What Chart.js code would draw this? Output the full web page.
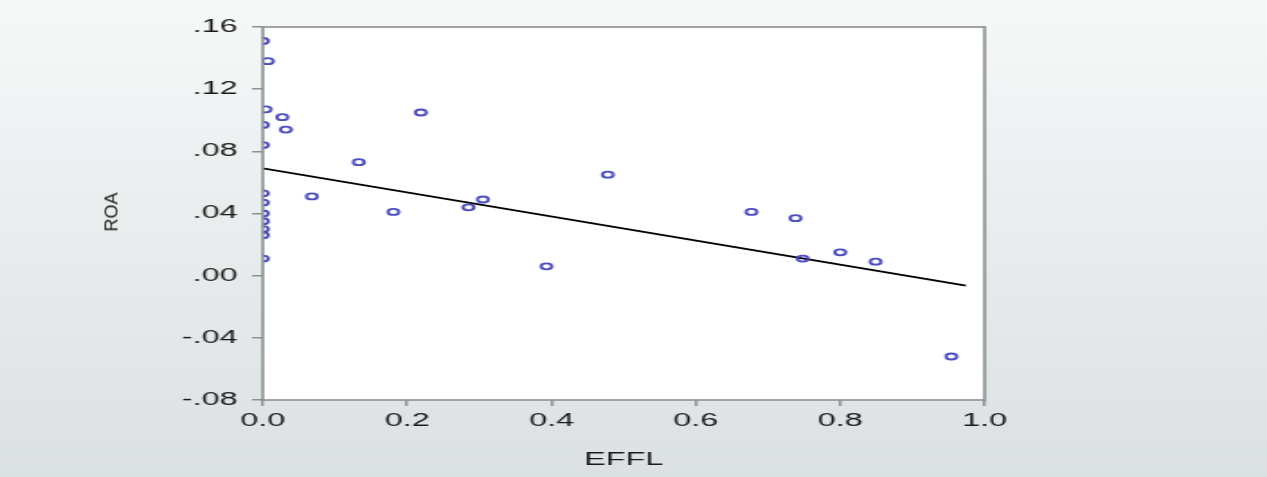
<!DOCTYPE html>
<html>
<head>
<meta charset="utf-8">
<script src="https://cdn.jsdelivr.net/npm/chart.js@4/dist/chart.umd.min.js"></script>
<style>
  html, body {
    margin: 0; padding: 0; width: 1267px; height: 477px; overflow: hidden;
    background: linear-gradient(#f6f8f8, #dbe0e2);
    font-family: "Liberation Sans", Arial, sans-serif;
  }
  /* the reference is stretched sideways, so the chart is drawn narrow and scaled */
  #wrap { position: absolute; left: 0; top: 0; width: 704px; height: 477px; transform: scaleX(1.8); transform-origin: 0 0; }
  #ytitle { position: absolute; left: 112px; top: 212px; transform: translate(-50%, -50%) rotate(-90deg); font-size: 18px; color: #1a1a1a; }
</style>
</head>
<body>
<div id="wrap"><canvas id="scatterChart"></canvas></div>
<div id="ytitle">ROA</div>
<script>
// EFFL / ROA observations
const effl = [0.000, 0.007, 0.004, 0.027, 0.000, 0.032, 0.000, 0.133, 0.000, 0.000,
              0.000, 0.000, 0.000, 0.000, 0.000, 0.068, 0.181, 0.219, 0.285, 0.305,
              0.393, 0.478, 0.677, 0.738, 0.748, 0.800, 0.849, 0.954];
const roa  = [0.151, 0.138, 0.107, 0.102, 0.097, 0.094, 0.084, 0.073, 0.053, 0.047,
              0.040, 0.035, 0.030, 0.026, 0.011, 0.051, 0.041, 0.105, 0.044, 0.049,
              0.006, 0.065, 0.041, 0.037, 0.011, 0.015, 0.009, -0.052];

// fitted line ends
const fitX = [0.0, 0.974];
const fitY = [0.069, -0.0064];

// ticks
const xTickValues = [0, 0.2, 0.4, 0.6, 0.8, 1.0];
const xTickLabels = ['0.0', '0.2', '0.4', '0.6', '0.8', '1.0'];
const yTickValues = [-0.08, -0.04, 0, 0.04, 0.08, 0.12, 0.16];
const yTickLabels = ['-.08', '-.04', '.00', '.04', '.08', '.12', '.16'];

const axisGrey = '#8b9092';
const labelFont = { family: '"Liberation Sans", Arial, sans-serif', size: 18 };

const framePlugin = {
  id: 'frame',
  beforeDraw(chart) {
    const a = chart.chartArea, ctx = chart.ctx;
    ctx.save();
    ctx.fillStyle = '#ffffff';
    ctx.fillRect(a.left, a.top, a.right - a.left, a.bottom - a.top);
    ctx.restore();
  },
  afterDatasetsDraw(chart) {
    const a = chart.chartArea, ctx = chart.ctx;
    ctx.save();
    ctx.strokeStyle = axisGrey;
    ctx.lineWidth = 1.6;
    ctx.strokeRect(a.left, a.top, a.right - a.left, a.bottom - a.top);
    ctx.restore();
  }
};

document.addEventListener('DOMContentLoaded', function() {
  const ctx = document.getElementById('scatterChart');
  new Chart(ctx, {
    type: 'scatter',
    data: {
      datasets: [{
        label: 'ROA',
        data: effl.map((x, i) => ({ x: x, y: roa[i] })),
        pointStyle: 'circle',
        pointRadius: 3,
        borderWidth: 1.8,
        borderColor: 'rgba(66, 66, 190, 0.95)',
        backgroundColor: 'rgba(255, 255, 255, 0)',
        clip: 0
      }, {
        type: 'line',
        label: 'Fit',
        data: fitX.map((x, i) => ({ x: x, y: fitY[i] })),
        borderColor: '#000000',
        borderWidth: 1.8,
        pointRadius: 0,
        fill: false,
        clip: 0
      }]
    },
    options: {
      responsive: true,
      maintainAspectRatio: false,
      animation: false,
      layout: { padding: { left: 0, top: 27, right: 157, bottom: 0 } },
      plugins: {
        legend: { display: false },
        tooltip: { enabled: false }
      },
      scales: {
        x: {
          type: 'linear',
          position: 'bottom',
          min: 0,
          max: 1,
          afterBuildTicks: s => { s.ticks = xTickValues.map(v => ({ value: v })); },
          afterFit: s => { s.height = 77; },
          ticks: {
            autoSkip: false,
            maxRotation: 0,
            padding: 4,
            color: '#1a1a1a',
            font: labelFont,
            callback: (v, i) => xTickLabels[i]
          },
          grid: { drawOnChartArea: false, drawTicks: true, tickLength: 6, color: axisGrey, lineWidth: 1.5 },
          border: { display: false },
          title: {
            display: true,
            text: 'EFFL',
            color: '#1a1a1a',
            font: labelFont,
            padding: { top: 0, bottom: 6 }
          }
        },
        y: {
          type: 'linear',
          min: -0.08,
          max: 0.16,
          afterBuildTicks: s => { s.ticks = yTickValues.map(v => ({ value: v })); },
          afterFit: s => { s.width = 146; },
          ticks: {
            autoSkip: false,
            padding: 8,
            color: '#1a1a1a',
            font: labelFont,
            callback: (v, i) => yTickLabels[i]
          },
          grid: { drawOnChartArea: false, drawTicks: true, tickLength: 6, color: axisGrey, lineWidth: 1.5 },
          border: { display: false }
        }
      }
    },
    plugins: [framePlugin]
  });
});
</script>
</body>
</html>
